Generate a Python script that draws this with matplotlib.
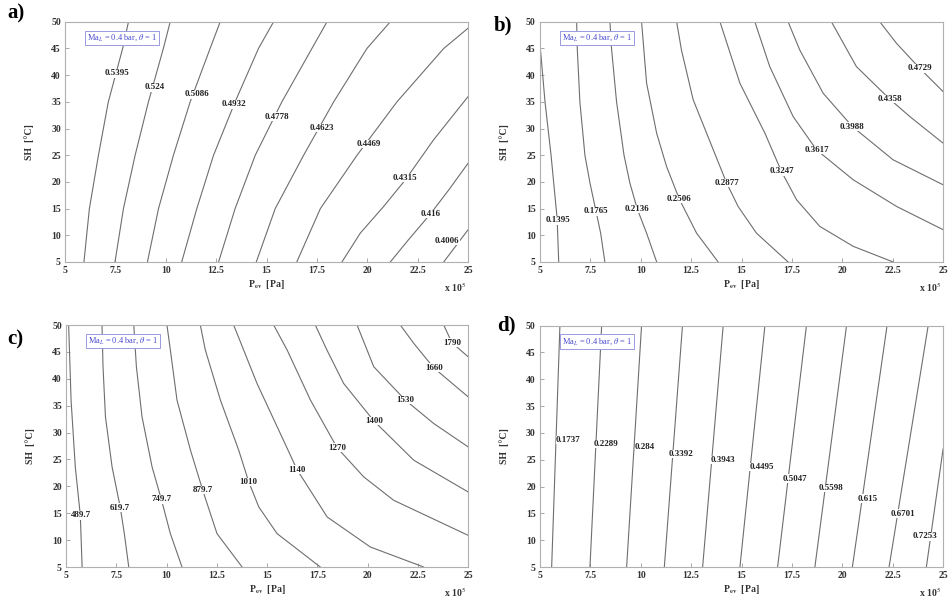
import matplotlib
matplotlib.use('Agg')
import matplotlib.pyplot as plt

plt.rcParams['font.family'] = ['Liberation Serif', 'DejaVu Serif']
plt.rcParams['mathtext.fontset'] = 'stix'

# ---- contour lines (x in 1e5 Pa, y = SH in C) ----
# panel a
a_levels = ['0.5395', '0.524', '0.5086', '0.4932', '0.4778', '0.4623',
            '0.4469', '0.4315', '0.416', '0.4006']
a_x = [[5.94, 6.21, 6.66, 7.15, 7.86, 8.15],
       [7.48, 7.90, 8.48, 9.14, 9.88, 10.22],
       [9.09, 9.64, 10.38, 11.21, 12.20, 12.70],
       [10.79, 11.54, 12.37, 13.44, 14.60, 15.35],
       [12.62, 13.44, 14.44, 15.76, 17.25, 18.0],
       [14.49, 15.43, 16.84, 18.33, 19.98, 21.14],
       [16.5, 17.67, 19.49, 21.47, 23.79, 25.0],
       [18.74, 19.65, 20.81, 21.89, 23.29, 25.0],
       [21.14, 22.05, 23.13, 24.04, 25.0],
       [23.79, 24.37, 25.0]]
a_y = [[5, 15, 25, 35, 45, 50],
       [5, 15, 25, 35, 45, 50],
       [5, 15, 25, 35, 45, 50],
       [5, 15, 25, 35, 45, 50],
       [5, 15, 25, 35, 45, 50],
       [5, 15, 25, 35, 45, 50],
       [5, 15, 25, 35, 45, 48.8],
       [5, 10.4, 15.4, 20.4, 27.9, 36.0],
       [5, 9.2, 14.0, 18.5, 23.5],
       [5, 7.9, 11.05]]
a_lx = [7.57, 9.47, 11.54, 13.36, 15.51, 17.75, 20.07, 21.89, 23.13, 23.96]
a_ly = [40.35, 37.7, 36.4, 34.55, 32.25, 30.06, 27.07, 20.71, 13.98, 8.99]

# panel b
b_levels = ['0.1395', '0.1765', '0.2136', '0.2506', '0.2877', '0.3247',
            '0.3617', '0.3988', '0.4358', '0.4729']
b_x = [[5.93, 5.85, 5.55, 5.25, 5.02],
       [8.22, 8.01, 7.78, 7.48, 7.23, 6.98, 6.85, 6.82],
       [10.79, 10.29, 9.83, 9.46, 9.17, 8.80, 8.55, 8.47],
       [13.84, 12.77, 11.91, 11.28, 10.79, 10.29, 10.04],
       [17.31, 15.74, 14.83, 14.26, 13.60, 12.60, 12.02, 11.78],
       [22.52, 20.54, 18.88, 17.73, 16.98, 16.16, 14.92, 13.93],
       [25.0, 22.69, 20.54, 18.72, 17.56, 16.40, 15.66],
       [25.0, 22.52, 20.50, 19.05, 17.89, 17.31],
       [25.0, 23.35, 22.36, 20.70, 19.46],
       [25.0, 23.84, 22.69, 21.86]]
b_y = [[5, 13.2, 25, 35, 45],
       [5, 10.4, 14.5, 19.8, 25.0, 35.0, 45.0, 50],
       [5, 10.4, 14.9, 19.8, 25.0, 35.0, 45.0, 50],
       [5, 10.4, 16.8, 22.9, 29.1, 38.5, 50],
       [5, 10.4, 15.4, 19.8, 26.0, 35.4, 44.7, 50],
       [5, 7.93, 11.67, 16.66, 21.96, 29.13, 38.48, 50],
       [11.05, 15.41, 20.40, 26.01, 32.24, 41.60, 50],
       [19.46, 24.14, 30.37, 36.61, 44.71, 50],
       [27.26, 32.24, 35.49, 41.60, 50],
       [36.92, 41.28, 45.96, 50]]
b_lx = [5.91, 7.78, 9.83, 11.91, 14.26, 16.98, 18.72, 20.50, 22.36, 23.84]
b_ly = [12.79, 14.48, 14.91, 16.78, 19.78, 21.96, 26.01, 30.37, 35.49, 41.28]

# panel c
c_levels = ['489.7', '619.7', '749.7', '879.7', '1010', '1140', '1270',
            '1400', '1530', '1660', '1790']
c_x = [[5.80, 5.71, 5.46, 5.25, 5.13],
       [8.12, 7.90, 7.70, 7.29, 6.96, 6.84, 6.79],
       [10.77, 10.19, 9.74, 9.28, 8.78, 8.50, 8.37],
       [13.76, 12.51, 11.80, 11.19, 10.52, 10.19, 10.02],
       [17.65, 15.50, 14.59, 14.09, 13.59, 12.68, 11.93, 11.68],
       [22.79, 20.14, 17.99, 16.49, 15.66, 14.50, 13.34],
       [25.0, 21.30, 19.81, 18.48, 17.16, 16.0, 15.33],
       [25.0, 22.30, 20.31, 18.81, 17.98, 17.40],
       [25.0, 23.29, 21.88, 20.31, 19.48],
       [25.0, 23.29, 22.30, 21.63],
       [25.0, 24.20, 23.79]]
c_y = [[5, 14.62, 23.62, 36.04, 50],
       [5, 11.21, 16.05, 23.62, 32.93, 42.24, 50],
       [5, 11.21, 17.60, 23.62, 32.93, 42.24, 50],
       [5, 11.21, 19.28, 26.73, 36.04, 45.35, 50],
       [5, 11.21, 16.17, 20.83, 26.73, 36.04, 45.35, 50],
       [5, 8.72, 14.31, 23.13, 29.83, 39.14, 50],
       [10.90, 17.41, 21.76, 27.22, 36.04, 45.35, 50],
       [18.97, 24.86, 32.19, 39.14, 45.35, 50],
       [27.35, 31.69, 36.04, 42.24, 50],
       [36.66, 42.06, 46.59, 50],
       [44.11, 46.71, 50]]
c_lx = [5.76, 7.70, 9.74, 11.80, 14.09, 16.49, 18.48, 20.31, 21.88, 23.29, 24.20]
c_ly = [14.62, 16.05, 17.60, 19.28, 20.83, 23.13, 27.22, 32.19, 36.04, 42.06, 46.71]

# panel d
d_levels = ['0.1737', '0.2289', '0.284', '0.3392', '0.3943', '0.4495',
            '0.5047', '0.5598', '0.615', '0.6701', '0.7253']
d_x = [[5.58, 5.99], [7.48, 8.06], [9.30, 10.04], [11.17, 12.07],
       [13.07, 14.09], [14.92, 16.16], [16.79, 18.22], [18.64, 20.21],
       [20.50, 22.22], [22.32, 24.26], [24.17, 25.0]]
d_y = [[5, 50]] * 10 + [[5, 27]]
d_lx = [6.40, 8.27, 10.21, 12.02, 14.06, 15.99, 17.64, 19.46, 21.28, 23.02, 24.09]
d_ly = [28.71, 27.97, 27.35, 26.04, 24.99, 23.62, 21.45, 19.71, 17.73, 14.93, 10.71]

x_ticks = [5, 7.5, 10, 12.5, 15, 17.5, 20, 22.5, 25]
x_tick_labels = ['5', '7.5', '10', '12.5', '15', '17.5', '20', '22.5', '25']
y_ticks = [5, 10, 15, 20, 25, 30, 35, 40, 45, 50]

legend_text = r'Ma$_L$ = 0.4 bar, $\theta$ = 1'


def draw_panel(ax, xs, ys, levels, lx, ly):
    for x, y in zip(xs, ys):
        ax.plot(x, y, color='#6e6e6e', linewidth=0.8, zorder=2)
    for lab, px, py in zip(levels, lx, ly):
        ax.text(px, py, lab, fontsize=6.5, fontweight='bold', color='#222222',
                ha='center', va='center', zorder=3,
                bbox=dict(facecolor='white', edgecolor='none', pad=0.2))
    ax.set_xlim(5, 25)
    ax.set_ylim(5, 50)
    ax.set_xticks(x_ticks)
    ax.set_xticklabels(x_tick_labels)
    ax.set_yticks(y_ticks)
    ax.tick_params(direction='in', length=3, width=0.6, color='#999999',
                   labelsize=7, labelcolor='#333333', pad=3)
    for lbl in ax.get_xticklabels() + ax.get_yticklabels():
        lbl.set_fontweight('bold')
    for s in ax.spines.values():
        s.set_color('#b0b0b0')
        s.set_linewidth(0.8)
    ax.set_xlabel(r'P$_{\mathbf{ev}}$  [Pa]', fontsize=7, fontweight='bold',
                  color='#333333', labelpad=2)
    ax.set_ylabel('SH  [°C]', fontsize=7, fontweight='bold',
                  color='#333333', labelpad=12)
    ax.text(0.995, -0.075, r'x 10$^5$', transform=ax.transAxes, fontsize=7,
            fontweight='bold', color='#333333', ha='right', va='top')
    ax.text(0.055, 0.955, legend_text, transform=ax.transAxes, fontsize=6,
            color='#4a4ad0', ha='left', va='top', zorder=4,
            bbox=dict(facecolor='white', edgecolor='#9a9ae0', linewidth=0.7,
                      pad=1.5))


fig = plt.figure(figsize=(9.53, 6.05), dpi=100)
ax_a = fig.add_axes([0.0682, 0.567, 0.423, 0.397])
ax_b = fig.add_axes([0.5666, 0.567, 0.423, 0.397])
ax_c = fig.add_axes([0.0693, 0.0628, 0.4218, 0.400])
ax_d = fig.add_axes([0.5666, 0.0628, 0.423, 0.399])

draw_panel(ax_a, a_x, a_y, a_levels, a_lx, a_ly)
draw_panel(ax_b, b_x, b_y, b_levels, b_lx, b_ly)
draw_panel(ax_c, c_x, c_y, c_levels, c_lx, c_ly)
draw_panel(ax_d, d_x, d_y, d_levels, d_lx, d_ly)

# panel letters
for txt, px, py in [('a)', 0.008, 0.995), ('b)', 0.518, 0.975),
                    ('c)', 0.008, 0.455), ('d)', 0.522, 0.478)]:
    fig.text(px, py, txt, fontsize=15, fontweight='bold', ha='left', va='top')

fig.savefig('out.png', dpi=100)
